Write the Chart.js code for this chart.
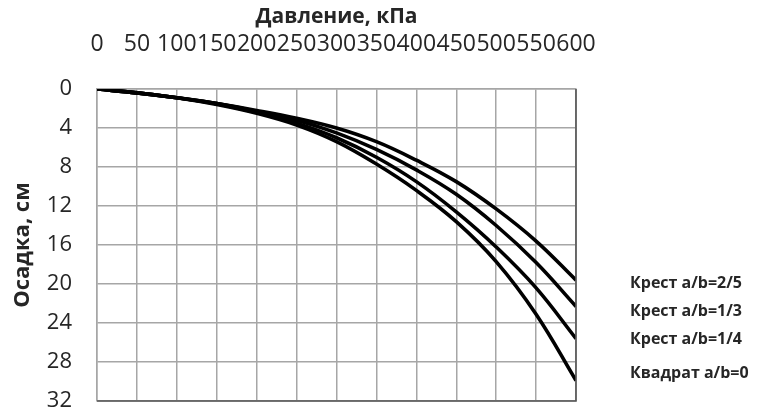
<!DOCTYPE html>
<html>
<head>
<meta charset="utf-8">
<script src="https://cdn.jsdelivr.net/npm/chart.js@4.4.1/dist/chart.umd.min.js"></script>
<style>
  html, body { margin: 0; padding: 0; background: #ffffff; }
  #wrap { width: 763px; height: 415px; position: relative; }
</style>
</head>
<body>
<div id="wrap"><canvas id="c" width="763" height="415"></canvas></div>
<script>
// Pressure, kPa
const pressure = [0, 50, 100, 150, 200, 250, 300, 350, 400, 450, 500, 550, 600];

// Settlement, cm, for each footing shape
const cross25 = [0, 0.4, 0.9, 1.5, 2.2, 3.0, 4.0, 5.4, 7.3, 9.5, 12.3, 15.6, 19.6];
const cross13 = [0, 0.4, 0.9, 1.5, 2.3, 3.2, 4.5, 6.2, 8.3, 10.8, 14.0, 17.8, 22.3];
const cross14 = [0, 0.4, 0.9, 1.5, 2.4, 3.5, 5.0, 7.0, 9.5, 12.6, 16.2, 20.4, 25.6];
const square0 = [0, 0.4, 0.9, 1.6, 2.5, 3.7, 5.4, 7.7, 10.4, 13.6, 17.7, 23.1, 29.9];

const seriesNames = ['Крест a/b=2/5', 'Крест a/b=1/3', 'Крест a/b=1/4', 'Квадрат a/b=0'];
const seriesValues = [cross25, cross13, cross14, square0];

const xTicks = [0, 50, 100, 150, 200, 250, 300, 350, 400, 450, 500, 550, 600];
const yTicks = [0, 4, 8, 12, 16, 20, 24, 28, 32];

const FONT = "'Open Sans', 'Noto Sans', sans-serif";
const TEXT = '#262626';

const datasets = seriesValues.map((vals, i) => ({
  label: seriesNames[i],
  data: pressure.map((p, j) => ({ x: p, y: vals[j] })),
  borderColor: '#000000',
  borderWidth: 3.6,
  pointRadius: 0,
  fill: false,
  tension: 0.4
}));

// Right-hand captions placed beside the end of each curve
const labelNudge = [3, 5, 1, -7];
const endLabels = {
  id: 'endLabels',
  afterDatasetsDraw(chart) {
    const { ctx, scales } = chart;
    ctx.save();
    ctx.font = "bold 16px " + FONT;
    ctx.fillStyle = TEXT;
    ctx.textAlign = 'left';
    ctx.textBaseline = 'middle';
    chart.data.datasets.forEach((ds, i) => {
      const last = ds.data[ds.data.length - 1];
      const y = scales.y.getPixelForValue(last.y) + labelNudge[i];
      ctx.fillText(ds.label, 630, y);
    });
    ctx.restore();
  }
};

// Darker right and bottom edges of the plot frame
const frameEdges = {
  id: 'frameEdges',
  afterDraw(chart) {
    const { ctx, chartArea: a } = chart;
    ctx.save();
    ctx.strokeStyle = '#555555';
    ctx.lineWidth = 1.6;
    ctx.beginPath();
    ctx.moveTo(a.right, a.top);
    ctx.lineTo(a.right, a.bottom);
    ctx.lineTo(a.left, a.bottom);
    ctx.stroke();
    ctx.restore();
  }
};

new Chart(document.getElementById('c'), {
  type: 'line',
  data: { datasets },
  plugins: [endLabels, frameEdges],
  options: {
    responsive: false,
    animation: false,
    layout: { padding: { top: 0, right: 187, bottom: 14, left: 0 } },
    plugins: {
      legend: { display: false },
      tooltip: { enabled: false }
    },
    scales: {
      x: {
        type: 'linear',
        position: 'top',
        min: 0,
        max: 600,
        afterBuildTicks(scale) { scale.ticks = xTicks.map(v => ({ value: v })); },
        afterFit(scale) {
          scale.height = 89;
          scale.paddingLeft = 0;
          scale.paddingRight = 0;
        },
        grid: { color: '#a6a6a6', lineWidth: 1.5, drawTicks: false },
        border: { color: '#a6a6a6', width: 1.5 },
        ticks: {
          autoSkip: false,
          maxRotation: 0,
          padding: 31,
          color: TEXT,
          font: { family: FONT, size: 23 }
        },
        title: {
          display: true,
          text: 'Давление, кПа',
          color: TEXT,
          font: { family: FONT, size: 21, weight: 'bold' },
          padding: { top: 4, bottom: 0 }
        }
      },
      y: {
        type: 'linear',
        reverse: true,
        min: 0,
        max: 32,
        afterBuildTicks(scale) { scale.ticks = yTicks.map(v => ({ value: v })); },
        afterFit(scale) {
          scale.width = 97;
          scale.paddingTop = 0;
          scale.paddingBottom = 0;
        },
        grid: { color: '#a6a6a6', lineWidth: 1.5, drawTicks: false },
        border: { color: '#a6a6a6', width: 1.5 },
        ticks: {
          padding: 25,
          color: TEXT,
          font: { family: FONT, size: 22 }
        },
        title: {
          display: true,
          text: 'Осадка, см',
          color: TEXT,
          font: { family: FONT, size: 22, weight: 'bold' },
          padding: { top: 10, bottom: 0 }
        }
      }
    }
  }
});
</script>
</body>
</html>
